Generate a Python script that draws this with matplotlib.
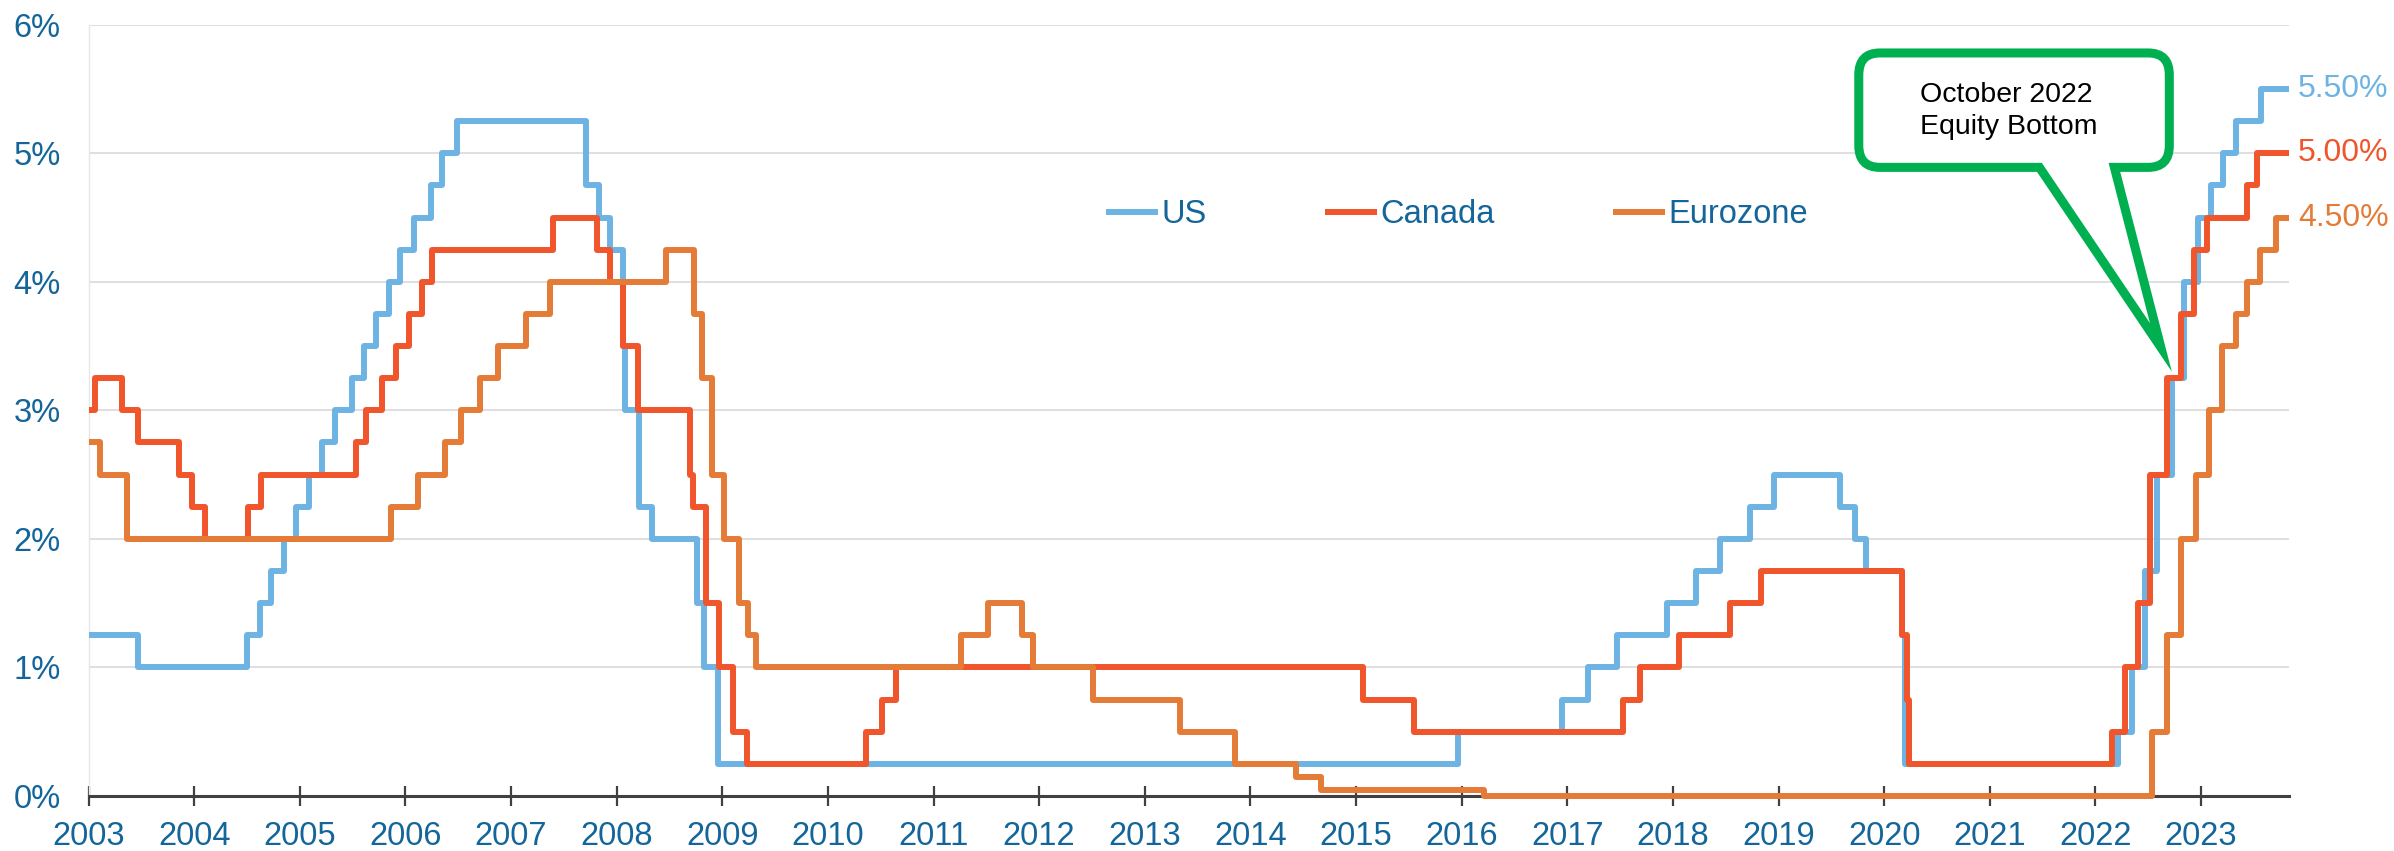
#!/usr/bin/env python3
"""Policy rates: US, Canada, Eurozone, 2003-2023, with the Oct 2022 callout."""

import matplotlib
matplotlib.use("Agg")
import matplotlib.pyplot as plt
from matplotlib.path import Path
from matplotlib.patches import PathPatch

# change dates (decimal years) and the rate that starts on each date
us_dates = [2003.0, 2003.47, 2004.50, 2004.62, 2004.73, 2004.85, 2004.96, 2005.09, 2005.21,
            2005.33, 2005.49, 2005.61, 2005.72, 2005.84, 2005.95, 2006.08, 2006.24, 2006.35,
            2006.49, 2007.71, 2007.83, 2007.94, 2008.06, 2008.08, 2008.21, 2008.33, 2008.76,
            2008.83, 2008.96, 2015.97, 2016.95, 2017.20, 2017.47, 2017.94, 2018.22, 2018.45,
            2018.73, 2018.96, 2019.58, 2019.72, 2019.83, 2020.17, 2020.20, 2022.21, 2022.35,
            2022.47, 2022.58, 2022.73, 2022.84, 2022.97, 2023.09, 2023.21, 2023.33, 2023.57]
us_rates = [1.25, 1.00, 1.25, 1.50, 1.75, 2.00, 2.25, 2.50, 2.75,
            3.00, 3.25, 3.50, 3.75, 4.00, 4.25, 4.50, 4.75, 5.00,
            5.25, 4.75, 4.50, 4.25, 3.50, 3.00, 2.25, 2.00, 1.50,
            1.00, 0.25, 0.50, 0.75, 1.00, 1.25, 1.50, 1.75, 2.00,
            2.25, 2.50, 2.25, 2.00, 1.75, 1.25, 0.25, 0.50, 1.00,
            1.75, 2.50, 3.25, 4.00, 4.50, 4.75, 5.00, 5.25, 5.50]

ca_dates = [2003.0, 2003.06, 2003.32, 2003.47, 2003.86, 2003.98, 2004.10, 2004.51, 2004.63,
            2005.53, 2005.63, 2005.78, 2005.91, 2006.03, 2006.16, 2006.25, 2007.40, 2007.81,
            2007.94, 2008.06, 2008.20, 2008.69, 2008.72, 2008.85, 2008.97, 2009.10, 2009.23,
            2010.36, 2010.51, 2010.64, 2015.07, 2015.55, 2017.53, 2017.69, 2018.06, 2018.54,
            2018.83, 2020.17, 2020.22, 2020.24, 2022.16, 2022.28, 2022.40, 2022.52, 2022.68,
            2022.81, 2022.93, 2023.06, 2023.44, 2023.53]
ca_rates = [3.00, 3.25, 3.00, 2.75, 2.50, 2.25, 2.00, 2.25, 2.50,
            2.75, 3.00, 3.25, 3.50, 3.75, 4.00, 4.25, 4.50, 4.25,
            4.00, 3.50, 3.00, 2.50, 2.25, 1.50, 1.00, 0.50, 0.25,
            0.50, 0.75, 1.00, 0.75, 0.50, 0.75, 1.00, 1.25, 1.50,
            1.75, 1.25, 0.75, 0.25, 0.50, 1.00, 1.50, 2.50, 3.25,
            3.75, 4.25, 4.50, 4.75, 5.00]

eu_dates = [2003.0, 2003.11, 2003.36, 2005.86, 2006.12, 2006.37, 2006.53, 2006.71, 2006.88,
            2007.14, 2007.37, 2008.47, 2008.73, 2008.81, 2008.90, 2009.02, 2009.16, 2009.24,
            2009.32, 2011.26, 2011.52, 2011.84, 2011.94, 2012.51, 2013.33, 2013.85, 2014.43,
            2014.67, 2016.21, 2022.54, 2022.68, 2022.81, 2022.95, 2023.08, 2023.20, 2023.33,
            2023.44, 2023.56, 2023.71]
eu_rates = [2.75, 2.50, 2.00, 2.25, 2.50, 2.75, 3.00, 3.25, 3.50,
            3.75, 4.00, 4.25, 3.75, 3.25, 2.50, 2.00, 1.50, 1.25,
            1.00, 1.25, 1.50, 1.25, 1.00, 0.75, 0.50, 0.25, 0.15,
            0.05, 0.00, 0.50, 1.25, 2.00, 2.50, 3.00, 3.50, 3.75,
            4.00, 4.25, 4.50]

end_date = 2023.83
years = list(range(2003, 2024))
yticks = [0, 1, 2, 3, 4, 5, 6]

series = [
    ("US", us_dates, us_rates, "#6DB3E3"),
    ("Canada", ca_dates, ca_rates, "#F0552B"),
    ("Eurozone", eu_dates, eu_rates, "#E47B36"),
]

label_color = "#14659A"
plt.rcParams["font.family"] = ["Liberation Sans", "DejaVu Sans"]

fig = plt.figure(figsize=(23.94, 8.51), dpi=100)
ax = fig.add_axes([0.037, 0.0646, 0.919, 0.9064])

for name, d, r, c in series:
    ax.step(d + [end_date], r + [r[-1]], where="post", color=c, lw=4.3,
            solid_joinstyle="round", solid_capstyle="butt",
            label=name, clip_on=False, zorder=3)
    ax.text(end_date + 0.09, r[-1], f"{r[-1]:.2f}%", color=c, fontsize=23,
            va="center", ha="left", clip_on=False)

ax.set_xlim(2003, end_date)
ax.set_ylim(0, 6)
ax.set_xticks(years)
ax.set_xticklabels([str(y) for y in years])
ax.set_yticks(yticks)
ax.set_yticklabels([f"{v}%" for v in yticks])
ax.grid(axis="y", color="#D9D9D9", lw=1.2, zorder=0)
ax.set_axisbelow(True)

for s in ["top", "right"]:
    ax.spines[s].set_visible(False)
ax.spines["left"].set_color("#E6E6E6")
ax.spines["left"].set_linewidth(1)
ax.spines["bottom"].set_color("#404040")
ax.spines["bottom"].set_linewidth(2.2)
ax.tick_params(axis="y", length=0, pad=20, labelsize=23.5, labelcolor=label_color)
ax.tick_params(axis="x", direction="inout", length=14, width=1.6, color="#404040",
               pad=11, labelsize=23.5, labelcolor=label_color)

leg = ax.legend(loc="center", bbox_to_anchor=(0.622, 0.754), ncol=3, frameon=False,
                fontsize=23.5, handlelength=1.6, handletextpad=0.12, columnspacing=3.6)
for line in leg.get_lines():
    line.set_linewidth(4.3)
for t in leg.get_texts():
    t.set_color(label_color)

# callout box with pointer to the October 2022 low
left, right, top, bottom = 2019.76, 2022.70, 5.78, 4.89
rx, ry = 0.20, 0.17
base_l, base_r = 2021.47, 2022.18
tip = (2022.62, 3.49)  # miter join pushes the drawn point to about (2022.74, 3.29)
verts = [
    (left + rx, top), (right - rx, top),
    (right, top), (right, top - ry),
    (right, bottom + ry),
    (right, bottom), (right - rx, bottom),
    (base_r, bottom), tip, (base_l, bottom),
    (left + rx, bottom),
    (left, bottom), (left, bottom + ry),
    (left, top - ry),
    (left, top), (left + rx, top),
    (left + rx, top),
]
codes = [Path.MOVETO, Path.LINETO,
         Path.CURVE3, Path.CURVE3,
         Path.LINETO,
         Path.CURVE3, Path.CURVE3,
         Path.LINETO, Path.LINETO, Path.LINETO,
         Path.LINETO,
         Path.CURVE3, Path.CURVE3,
         Path.LINETO,
         Path.CURVE3, Path.CURVE3,
         Path.CLOSEPOLY]
callout = PathPatch(Path(verts, codes), facecolor="white", edgecolor="#00B050",
                    lw=6.5, joinstyle="miter", zorder=5, clip_on=False)
ax.add_patch(callout)
ax.text(2020.34, 5.33, "October 2022\nEquity Bottom", fontsize=20.5, color="black",
        ha="left", va="center", linespacing=1.3, zorder=6)

fig.savefig("out.png", dpi=100)
plt.close(fig)
